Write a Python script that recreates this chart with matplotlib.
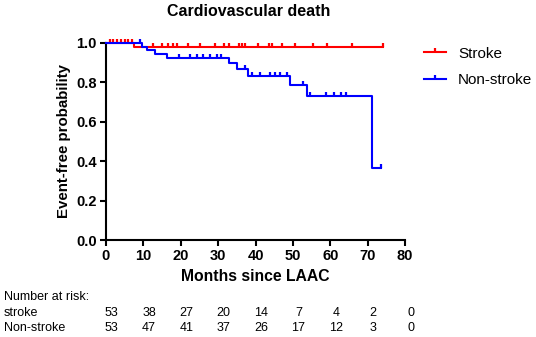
import numpy as np
import matplotlib
matplotlib.use('Agg')
import matplotlib.pyplot as plt
from matplotlib.path import Path
from matplotlib.lines import Line2D

plt.rcParams['font.family'] = ['Liberation Sans', 'DejaVu Sans']

# Kaplan-Meier step data (time in months, event-free probability)
stroke_t = [0, 7.5, 74]
stroke_s = [1.0, 0.981, 0.981]
stroke_cens = [1, 2, 3, 4, 5, 6, 7, 12.7, 14.9, 16.7, 18, 19, 22, 25.2, 29.2, 31.5,
               32.8, 35.5, 36.4, 37.3, 40.8, 43.5, 44.4, 47.2, 50.5, 55.3, 59.2, 65.9, 74]

nonstroke_t = [0, 9.6, 10.9, 13.1, 16.3, 33.0, 35.0, 38.0, 49.3, 53.7, 71.2, 73.5]
nonstroke_s = [1.0, 0.981, 0.962, 0.943, 0.924, 0.897, 0.866, 0.834, 0.785, 0.733, 0.367, 0.367]
nonstroke_cens = [9.1, 19.4, 22.5, 24.3, 26.0, 27.9, 29.8, 30.9, 37.2, 39.0, 41.3, 44.0,
                  45.3, 46.6, 48.4, 52.7, 54.7, 58.8, 61.0, 63.0, 64.1, 73.5]

risk_times = [0, 10, 20, 30, 40, 50, 60, 70, 80]
risk_stroke = [53, 38, 27, 20, 14, 7, 4, 2, 0]
risk_nonstroke = [53, 47, 41, 37, 26, 17, 12, 3, 0]

RED = '#ff0000'
BLUE = '#0000ff'

# censor tick pointing upward from the curve
tick = Path([(0, 0), (0, 1)], [Path.MOVETO, Path.LINETO])


def level_at(t_steps, s_steps, times):
    idx = np.searchsorted(t_steps, times, side='right') - 1
    return np.asarray(s_steps)[idx]


fig = plt.figure(figsize=(5.36, 3.37), dpi=100)
ax = fig.add_axes([106 / 536, 1 - 240 / 337, (405 - 106) / 536, (240 - 43) / 337])

for t, s, cens, col in [(stroke_t, stroke_s, stroke_cens, RED),
                        (nonstroke_t, nonstroke_s, nonstroke_cens, BLUE)]:
    ax.step(t, s, where='post', color=col, lw=1.5, clip_on=False, zorder=3)
    ax.plot(cens, level_at(t, s, cens), ls='none', marker=tick, ms=5.5, mew=1.6,
            color=col, clip_on=False, zorder=3)

ax.set_xlim(0, 80)
ax.set_ylim(0, 1.0)
ax.set_xticks(np.arange(0, 81, 10))
ax.set_yticks(np.arange(0, 1.01, 0.2))
ax.set_yticklabels([f'{v:.1f}' for v in np.arange(0, 1.01, 0.2)])
for sp in ['top', 'right']:
    ax.spines[sp].set_visible(False)
for sp in ['left', 'bottom']:
    ax.spines[sp].set_linewidth(1.5)
ax.tick_params(direction='out', length=4.5, width=1.5, labelsize=10.5, pad=2)
for lab in ax.get_xticklabels() + ax.get_yticklabels():
    lab.set_fontweight('bold')

ax.set_xlabel('Months since LAAC', fontsize=11.3, fontweight='bold', labelpad=4)
ax.set_ylabel('Event-free probability', fontsize=10.8, fontweight='bold', labelpad=4)
fig.text(249 / 536, 1 - 11 / 337, 'Cardiovascular death', ha='center', va='center',
         fontsize=11.5, fontweight='bold')

handles = [Line2D([], [], color=RED, lw=1.5, marker=tick, ms=5.5, mew=1.6),
           Line2D([], [], color=BLUE, lw=1.5, marker=tick, ms=5.5, mew=1.6)]
leg = fig.legend(handles, ['Stroke', 'Non-stroke'], loc='upper left',
                 bbox_to_anchor=(416 / 536, 1 - 39 / 337), frameon=False, fontsize=11,
                 borderpad=0, labelspacing=0.8, handlelength=1.45, handletextpad=0.8,
                 numpoints=1)

# number at risk table
trans = matplotlib.transforms.blended_transform_factory(ax.transData, fig.transFigure)
fig.text(4 / 536, 1 - 297 / 337, 'Number at risk:', ha='left', va='center', fontsize=9)
fig.text(4 / 536, 1 - 313 / 337, 'stroke', ha='left', va='center', fontsize=9)
fig.text(4 / 536, 1 - 328 / 337, 'Non-stroke', ha='left', va='center', fontsize=9)
for t, a, b in zip(risk_times, risk_stroke, risk_nonstroke):
    ax.text(t + 1.5, 1 - 313 / 337, str(a), transform=trans, ha='center', va='center',
            fontsize=9)
    ax.text(t + 1.5, 1 - 328 / 337, str(b), transform=trans, ha='center', va='center',
            fontsize=9)

fig.savefig('out.png', dpi=100)
